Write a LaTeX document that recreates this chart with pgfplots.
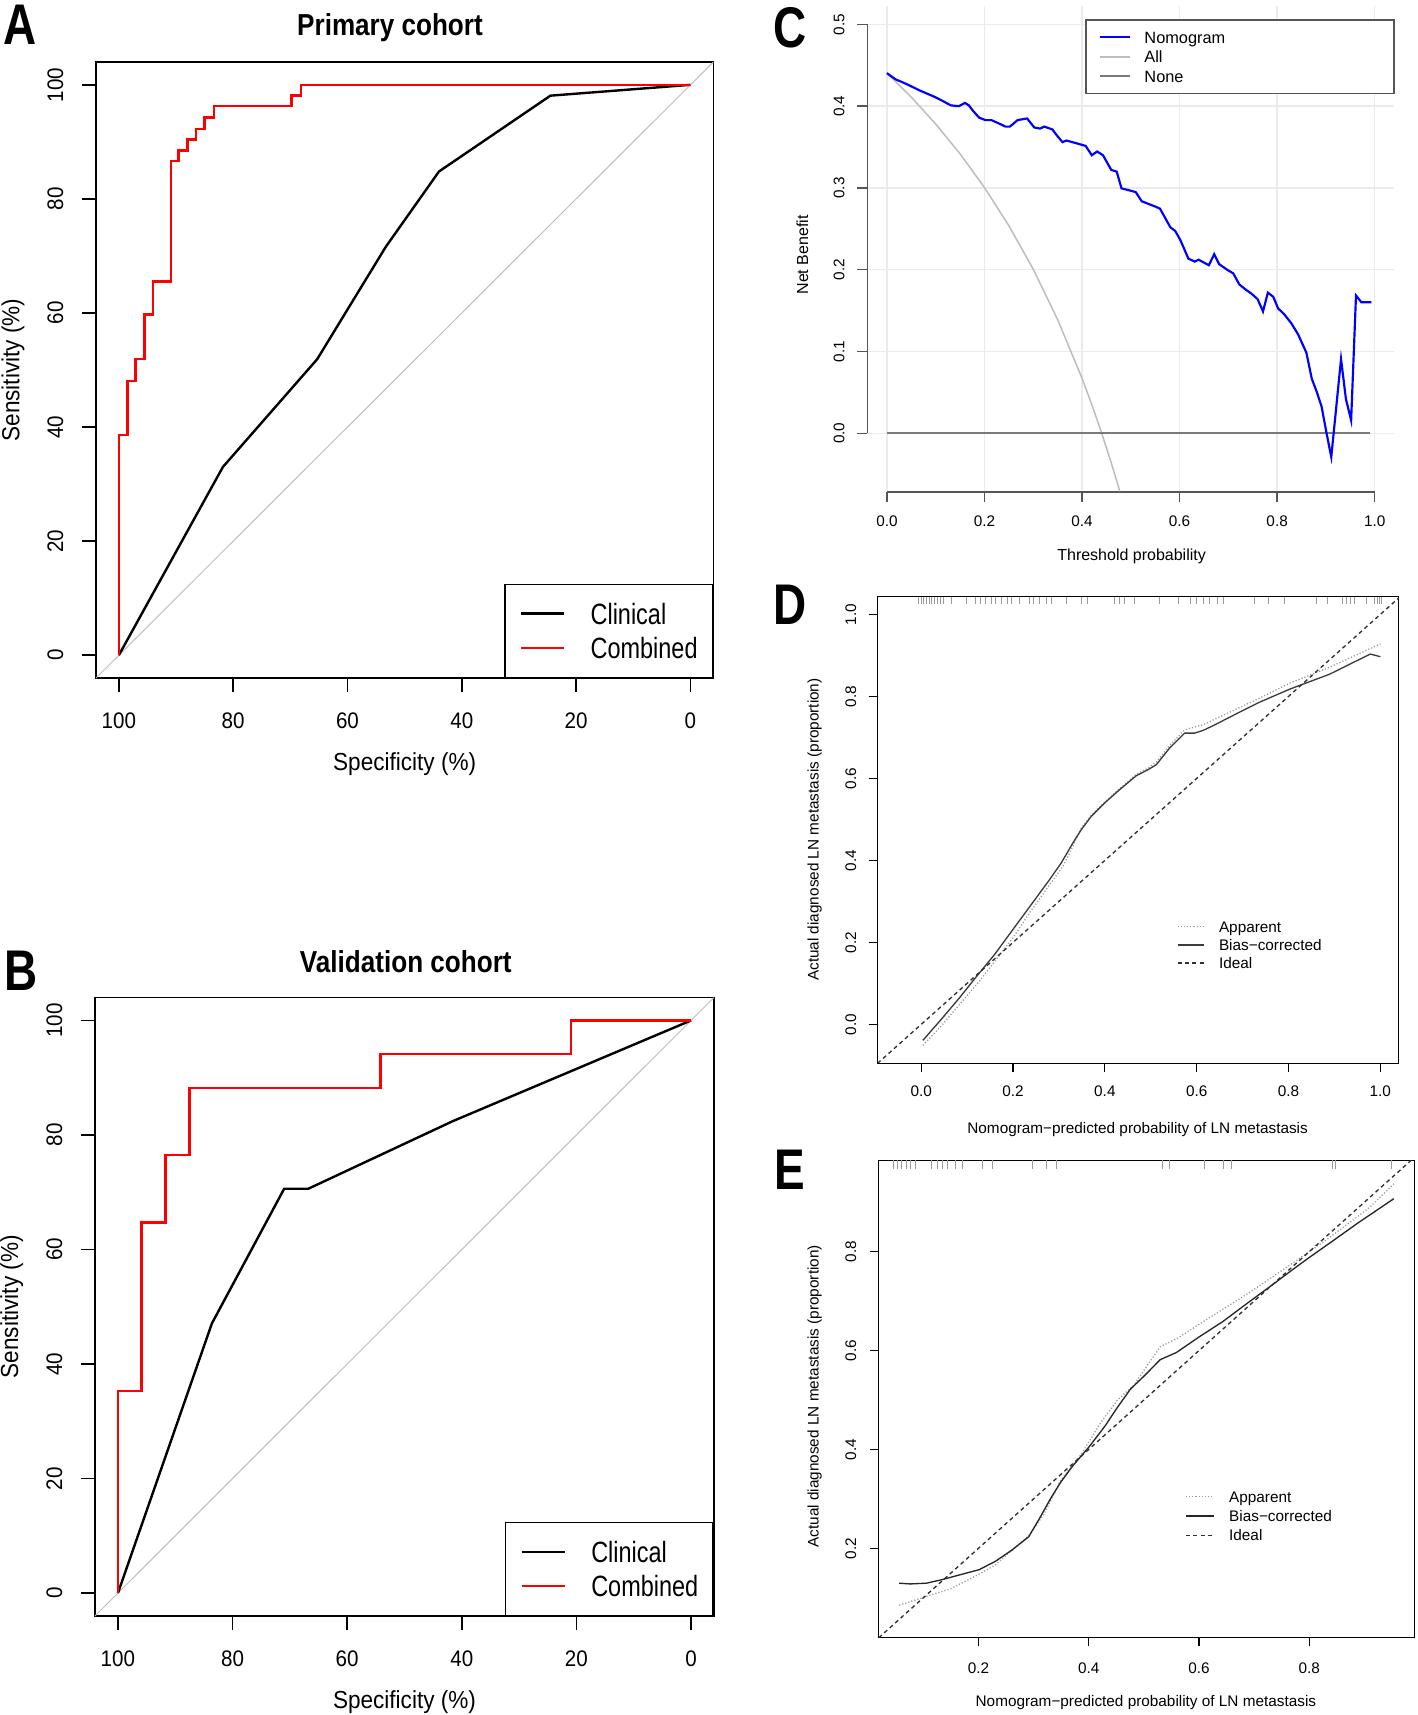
\documentclass[border=0pt]{standalone}
\usepackage{fontspec}
\usepackage{pgfplots}
\pgfplotsset{compat=1.18}
\setmainfont{Liberation Sans}
\newfontfamily\abfont[FakeStretch=0.915]{Liberation Sans}
\newfontfamily\legfont[FakeStretch=0.80]{Liberation Sans}
\newfontfamily\titfont[FakeStretch=0.86]{Liberation Sans}
\newfontfamily\letfont[FakeStretch=0.80]{Liberation Sans}
\newfontfamily\rfont{Liberation Sans}

\definecolor{rocgray}{HTML}{BEBEBE}
\definecolor{axgray}{HTML}{555555}
\definecolor{gridgray}{HTML}{EBEBEB}
\definecolor{nbblue}{HTML}{0000FF}
\definecolor{allgray}{HTML}{BDBDBD}
\definecolor{nonegray}{HTML}{7A7A7A}
\definecolor{bcgray}{HTML}{3C3C3C}
\definecolor{appgray}{HTML}{9A9A9A}
\definecolor{idealgray}{HTML}{303030}
\definecolor{ruggray}{HTML}{9A9A9A}

\pgfplotsset{
  rocaxis/.style={
    scale only axis, anchor=north west,
    x dir=reverse, xmin=-4, xmax=104, ymin=-4, ymax=104,
    xtick={0,20,40,60,80,100}, ytick={0,20,40,60,80,100},
    xtick pos=left, ytick pos=left,
    tick align=outside, major tick length=4.2pt,
    tick style={black, line width=0.45pt},
    axis line style={line width=0.45pt},
    /pgf/number format/assume math mode=true,
    ticklabel style={font=\abfont\fontsize{6.75}{8}\selectfont},
    xticklabel style={anchor=center}, xticklabel shift=8.5pt,
    yticklabel style={anchor=center, rotate=90}, yticklabel shift=8.0pt,
    xlabel={Specificity (\%)}, ylabel={Sensitivity (\%)},
    label style={font=\abfont\fontsize{7.4}{9}\selectfont},
    xlabel style={at={(axis description cs:0.5,-0.139)}, anchor=center},
    ylabel style={at={(axis description cs:-0.1345,0.5)}, anchor=center},
    legend style={at={(1,0)}, anchor=south east, draw=black, line width=0.45pt, fill=white,
       inner xsep=4.5pt, inner ysep=5.6pt, row sep=4.02pt, column sep=7.5pt,
       font=\legfont\fontsize{8.8}{10}\selectfont,
       nodes={inner sep=0pt, text height=6.3pt, text depth=0pt}},
    legend cell align=left,
    legend image code/.code={\draw[##1] (0pt,0pt) -- (13pt,0pt);},
  },
  calaxis/.style={
    scale only axis, anchor=north west,
    xtick pos=left, ytick pos=left,
    tick align=outside, major tick length=2.7pt,
    tick style={black, line width=0.35pt},
    axis line style={line width=0.35pt},
    ticklabel style={font=\rfont\fontsize{4.6}{5.5}\selectfont},
    xticklabel style={anchor=center},
    yticklabel style={anchor=center, rotate=90},
    xlabel={Nomogram−predicted probability of LN metastasis},
    ylabel={Actual diagnosed LN metastasis (proportion)},
    label style={font=\rfont\fontsize{4.6}{5.5}\selectfont},
    legend style={draw=none, fill=none, anchor=north west, inner sep=0pt,
       column sep=4.26pt, font=\rfont\fontsize{4.6}{5.5}\selectfont,
       nodes={inner sep=0pt, text height=3.3pt, text depth=0pt}},
    legend cell align=left,
  },
}

\begin{document}
\begin{tikzpicture}
\path[use as bounding box] (0pt,0pt) rectangle (425.4pt,-514.5pt);

% ---------------- Panel A ----------------
\begin{axis}[rocaxis, at={(28.8pt,-18.6pt)}, width=185.2pt, height=184.8pt]
\addplot[rocgray, line width=0.3pt, forget plot] coordinates {(104,-4) (-4,104)};
\addplot[black, line width=0.72pt] coordinates {
(100,0) (81.8,33.0) (65.3,51.9) (53.3,71.6) (44.0,84.8) (24.5,98.1) (0,100)};
\addlegendentry{Clinical}
\addplot[red, line width=0.72pt] coordinates {
(100,0) (100,38.6) (98.5,38.6) (98.5,48.1) (97.1,48.1) (97.1,51.9) (95.5,51.9)
(95.5,59.7) (94.0,59.7) (94.0,65.5) (90.9,65.5) (90.9,86.6) (89.6,86.6) (89.6,88.5)
(88.0,88.5) (88.0,90.4) (86.5,90.4) (86.5,92.3) (85.0,92.3) (85.0,94.3) (83.4,94.3)
(83.4,96.3) (69.8,96.3) (69.8,98.1) (68.1,98.1) (68.1,100) (0,100)};
\addlegendentry{Combined}
\end{axis}

% ---------------- Panel B ----------------
\begin{axis}[rocaxis, at={(28.5pt,-299.25pt)}, width=185.7pt, height=185.55pt]
\addplot[rocgray, line width=0.3pt, forget plot] coordinates {(104,-4) (-4,104)};
\addplot[black, line width=0.72pt] coordinates {
(100,0) (83.6,47.1) (71.0,70.6) (66.8,70.6) (41.6,82.4) (0,100)};
\addlegendentry{Clinical}
\addplot[red, line width=0.72pt] coordinates {
(100,0) (100,35.3) (95.9,35.3) (95.9,64.7) (91.7,64.7) (91.7,76.5) (87.5,76.5)
(87.5,88.2) (54.2,88.2) (54.2,94.1) (20.9,94.1) (20.9,100) (0,100)};
\addlegendentry{Combined}
\end{axis}

% ---------------- Panel C ----------------
\begin{axis}[
  scale only axis, anchor=north west, at={(260.22pt,-1.92pt)},
  width=158.04pt, height=145.74pt,
  xmin=-0.04, xmax=1.04, ymin=-0.072, ymax=0.522,
  clip=false,
  axis line style={draw=none},
  xtick={0,0.2,0.4,0.6,0.8,1}, xticklabels={0.0,0.2,0.4,0.6,0.8,1.0},
  ytick={0,0.1,0.2,0.3,0.4,0.5}, yticklabels={0.0,0.1,0.2,0.3,0.4,0.5},
  xtick pos=left, ytick pos=left,
  tick align=outside, major tick length=3pt,
  tick style={axgray, line width=0.45pt},
  grid=major, major grid style={gridgray, line width=0.45pt},
  ticklabel style={font=\rfont\fontsize{4.6}{5.5}\selectfont},
  xticklabel style={anchor=center}, xticklabel shift=5.7pt,
  yticklabel style={anchor=center, rotate=90}, yticklabel shift=5.5pt,
  xlabel={Threshold probability}, ylabel={Net Benefit},
  label style={font=\rfont\fontsize{4.8}{5.8}\selectfont},
  xlabel style={at={(axis description cs:0.5015,-0.1313)}, anchor=center},
  ylabel style={at={(axis description cs:-0.1234,0.4885)}, anchor=center},
  legend style={at={(0.4383,0.9497)}, anchor=north west, draw=none, fill=none,
     inner sep=0pt, row sep=2.35pt, column sep=4pt,
     font=\rfont\fontsize{4.9}{5.9}\selectfont,
     nodes={inner sep=0pt, text height=3.5pt, text depth=0pt}},
  legend cell align=left,
  legend image code/.code={\draw[#1] (0pt,0pt) -- (9pt,0pt);},
]
\draw[axgray, line width=0.45pt] (axis cs:0,-0.072) -- (axis cs:1,-0.072);
\draw[axgray, line width=0.45pt] (axis cs:-0.04,0) -- (axis cs:-0.04,0.5);
\addplot[allgray, line width=0.45pt, forget plot] coordinates {
(0,0.4404) (0.05,0.4110) (0.1,0.3782) (0.15,0.3417) (0.2,0.3005) (0.25,0.2539)
(0.3,0.2006) (0.35,0.1391) (0.4,0.0673) (0.42,0.0352) (0.44,0.0007) (0.46,-0.0363)
(0.4775,-0.071)};
\addplot[nonegray, line width=0.6pt, forget plot] coordinates {(0,0) (0.99,0)};
\addplot[nbblue, line width=0.65pt] coordinates {
(0.000,0.4404) (0.018,0.4327) (0.031,0.4295) (0.0475,0.425) (0.068,0.419)
(0.0975,0.4115) (0.114,0.4065) (0.131,0.401) (0.1475,0.400) (0.160,0.404)
(0.168,0.401) (0.177,0.394) (0.189,0.386) (0.2017,0.383) (0.214,0.383)
(0.231,0.3785) (0.243,0.375) (0.252,0.375) (0.268,0.383) (0.2875,0.385)
(0.302,0.374) (0.314,0.3726) (0.3225,0.375) (0.339,0.3717) (0.3475,0.365)
(0.360,0.356) (0.368,0.358) (0.389,0.3546) (0.4075,0.3514) (0.420,0.340)
(0.431,0.3446) (0.443,0.340) (0.460,0.322) (0.471,0.320) (0.481,0.2995)
(0.4975,0.297) (0.510,0.295) (0.5225,0.2837) (0.5517,0.2769) (0.560,0.2746)
(0.581,0.252) (0.591,0.2475) (0.6017,0.2362) (0.618,0.2136) (0.631,0.210)
(0.639,0.2123) (0.660,0.2055) (0.671,0.219) (0.681,0.2069) (0.6975,0.200)
(0.710,0.1956) (0.7225,0.182) (0.735,0.176) (0.7475,0.1707) (0.760,0.164)
(0.771,0.149) (0.781,0.172) (0.792,0.167) (0.802,0.1527) (0.814,0.1459)
(0.829,0.1346) (0.843,0.121) (0.860,0.0985) (0.871,0.0668) (0.881,0.051)
(0.891,0.033) (0.9017,-0.001) (0.911,-0.029) (0.931,0.0908) (0.941,0.042)
(0.9517,0.0158) (0.9617,0.1685) (0.9725,0.1603) (0.9933,0.1603)};
\addlegendentry{Nomogram}
\addlegendimage{allgray, line width=0.45pt}
\addlegendentry{All}
\addlegendimage{nonegray, line width=0.6pt}
\addlegendentry{None}
\draw[axgray, line width=0.45pt, fill=white] (rel axis cs:0.415,0.821) rectangle (rel axis cs:1,0.972);
\end{axis}

% ---------------- Panel D ----------------
\begin{axis}[calaxis, at={(263.28pt,-179.04pt)}, width=156.33pt, height=139.95pt,
  xmin=-0.095, xmax=1.04, ymin=-0.095, ymax=1.043,
  xtick={0,0.2,0.4,0.6,0.8,1}, xticklabels={0.0,0.2,0.4,0.6,0.8,1.0},
  ytick={0,0.2,0.4,0.6,0.8,1}, yticklabels={0.0,0.2,0.4,0.6,0.8,1.0},
  xticklabel shift=5.6pt, yticklabel shift=5.3pt,
  xlabel style={at={(axis description cs:0.499,-0.143)}, anchor=center},
  ylabel style={at={(axis description cs:-0.1209,0.501)}, anchor=center},
  legend style={at={(0.5732,0.306)}, row sep=2.15pt},
  legend image code/.code={\draw[#1] (0pt,0pt) -- (7.95pt,0pt);},
]
\addplot[only marks, mark=|, mark size=1.05pt, mark options={ruggray, line width=0.3pt}, forget plot] coordinates {
(-0.005,1.034) (0.001,1.034) (0.006,1.034) (0.012,1.034) (0.017,1.034) (0.023,1.034)
(0.030,1.034) (0.036,1.034) (0.043,1.034) (0.049,1.034) (0.067,1.034) (0.099,1.034)
(0.119,1.034) (0.130,1.034) (0.139,1.034) (0.152,1.034) (0.161,1.034) (0.174,1.034)
(0.187,1.034) (0.196,1.034) (0.214,1.034) (0.236,1.034) (0.245,1.034) (0.258,1.034)
(0.272,1.034) (0.283,1.034) (0.316,1.034) (0.349,1.034) (0.362,1.034) (0.420,1.034)
(0.432,1.034) (0.443,1.034) (0.465,1.034) (0.520,1.034) (0.560,1.034) (0.587,1.034)
(0.600,1.034) (0.614,1.034) (0.627,1.034) (0.645,1.034) (0.658,1.034) (0.725,1.034)
(0.756,1.034) (0.791,1.034) (0.862,1.034) (0.885,1.034) (0.917,1.034) (0.926,1.034)
(0.935,1.034) (0.944,1.034) (0.969,1.034) (0.988,1.034) (0.994,1.034) (0.999,1.034)
(1.003,1.034)};
\addplot[appgray, line width=0.4pt, dash pattern=on 0.35pt off 0.6pt] coordinates {
(0.0036,-0.0512) (0.0436,-0.004) (0.0835,0.0487) (0.127,0.1056) (0.1634,0.1583)
(0.1997,0.2111) (0.236,0.272) (0.2723,0.3289) (0.3086,0.3857) (0.3304,0.4344)
(0.3486,0.479) (0.3704,0.51) (0.3994,0.542) (0.4321,0.575) (0.4684,0.61)
(0.4938,0.625) (0.512,0.64) (0.541,0.68) (0.5737,0.7186) (0.6137,0.7308)
(0.6863,0.769) (0.7371,0.7958) (0.8025,0.8323) (0.889,0.871) (1.0,0.928)};
\addlegendentry{Apparent}
\addplot[bcgray, line width=0.4pt] coordinates {
(0.0036,-0.039) (0.0436,0.0122) (0.0835,0.065) (0.1198,0.116) (0.1598,0.1705)
(0.1997,0.2314) (0.2397,0.2923) (0.2796,0.3532) (0.305,0.3938) (0.3304,0.4426)
(0.3486,0.475) (0.3704,0.5075) (0.3994,0.54) (0.4321,0.5725) (0.4684,0.6066)
(0.4938,0.6212) (0.512,0.6334) (0.541,0.674) (0.5737,0.7105) (0.5955,0.7105)
(0.6137,0.717) (0.6354,0.7284) (0.6863,0.7576) (0.7371,0.786) (0.8025,0.8177)
(0.889,0.854) (0.978,0.9033) (1.0,0.897)};
\addlegendentry{Bias−corrected}
\addplot[idealgray, line width=0.4pt, dash pattern=on 1.2pt off 1.0pt] coordinates {(-0.095,-0.095) (1.043,1.043)};
\addlegendentry{Ideal}
\end{axis}

% ---------------- Panel E ----------------
\begin{axis}[calaxis, at={(263.64pt,-348.03pt)}, width=160.59pt, height=143.19pt,
  xmin=0.0194, xmax=0.990, ymin=0.020, ymax=0.985,
  xtick={0.2,0.4,0.6,0.8}, xticklabels={0.2,0.4,0.6,0.8},
  ytick={0.2,0.4,0.6,0.8}, yticklabels={0.2,0.4,0.6,0.8},
  xticklabel shift=6.4pt, yticklabel shift=5.7pt,
  xlabel style={at={(axis description cs:0.499,-0.1375)}, anchor=center},
  ylabel style={at={(axis description cs:-0.12,0.505)}, anchor=center},
  legend style={at={(0.5711,0.3078)}, row sep=2.48pt, column sep=4.3pt},
  legend image code/.code={\draw[#1] (0pt,0pt) -- (8.5pt,0pt);},
]
\addplot[only marks, mark=|, mark size=1.26pt, mark options={ruggray, line width=0.3pt}, forget plot] coordinates {
(0.0467,0.9765) (0.054,0.9765) (0.0614,0.9765) (0.0688,0.9765) (0.0762,0.9765)
(0.0858,0.9765) (0.1145,0.9765) (0.1263,0.9765) (0.1351,0.9765) (0.144,0.9765)
(0.1587,0.9765) (0.172,0.9765) (0.2074,0.9765) (0.2258,0.9765) (0.2973,0.9765)
(0.3231,0.9765) (0.3415,0.9765) (0.5332,0.9765) (0.5464,0.9765) (0.6106,0.9765)
(0.6437,0.9765) (0.6585,0.9765) (0.8413,0.9765) (0.8472,0.9765) (0.9496,0.9765)};
\addplot[appgray, line width=0.4pt, dash pattern=on 0.35pt off 0.6pt] coordinates {
(0.0563,0.0852) (0.0983,0.100) (0.1499,0.1185) (0.2015,0.148) (0.231,0.1667)
(0.2604,0.196) (0.2914,0.226) (0.3194,0.270) (0.3489,0.337) (0.3857,0.389)
(0.4226,0.4556) (0.452,0.500) (0.4816,0.5296) (0.5295,0.6074) (0.5627,0.626)
(0.6142,0.663) (0.688,0.7148) (0.7617,0.7704) (0.8354,0.8274) (0.909,0.8889)
(0.9533,0.937)};
\addlegendentry{Apparent}
\addplot[black!85, line width=0.4pt] coordinates {
(0.0563,0.1296) (0.0762,0.1281) (0.1057,0.1296) (0.135,0.137) (0.1646,0.146)
(0.2015,0.157) (0.231,0.174) (0.2604,0.1963) (0.2914,0.2237) (0.312,0.263)
(0.3305,0.300) (0.3489,0.3333) (0.371,0.3667) (0.4005,0.405) (0.430,0.448)
(0.452,0.485) (0.4757,0.522) (0.5037,0.552) (0.5295,0.5815) (0.559,0.596)
(0.5995,0.627) (0.6437,0.659) (0.688,0.696) (0.732,0.732) (0.769,0.763)
(0.7985,0.787) (0.843,0.822) (0.887,0.857) (0.9533,0.907)};
\addlegendentry{Bias−corrected}
\addplot[idealgray, line width=0.4pt, dash pattern=on 1.2pt off 1.0pt] coordinates {(0.0194,0.0194) (0.99,0.99)};
\addlegendentry{Ideal}
\end{axis}

% ---------------- titles and panel letters ----------------
\node[font=\titfont\fontsize{9.1}{11}\selectfont\bfseries, inner sep=0pt, anchor=base] at (117pt,-10.5pt) {Primary cohort};
\node[font=\titfont\fontsize{9.1}{11}\selectfont\bfseries, inner sep=0pt, anchor=base] at (121.74pt,-291.6pt) {Validation cohort};
\node[font=\letfont\fontsize{17.2}{20}\selectfont\bfseries, inner sep=0pt] at (5.91pt,-7.35pt) {A};
\node[font=\letfont\fontsize{17.2}{20}\selectfont\bfseries, inner sep=0pt] at (6.21pt,-291.15pt) {B};
\node[font=\letfont\fontsize{17.2}{20}\selectfont\bfseries, inner sep=0pt] at (237pt,-8.4pt) {C};
\node[font=\letfont\fontsize{17.2}{20}\selectfont\bfseries, inner sep=0pt] at (237pt,-181.3pt) {D};
\node[font=\letfont\fontsize{17.2}{20}\selectfont\bfseries, inner sep=0pt] at (237pt,-350.85pt) {E};
\end{tikzpicture}
\end{document}
